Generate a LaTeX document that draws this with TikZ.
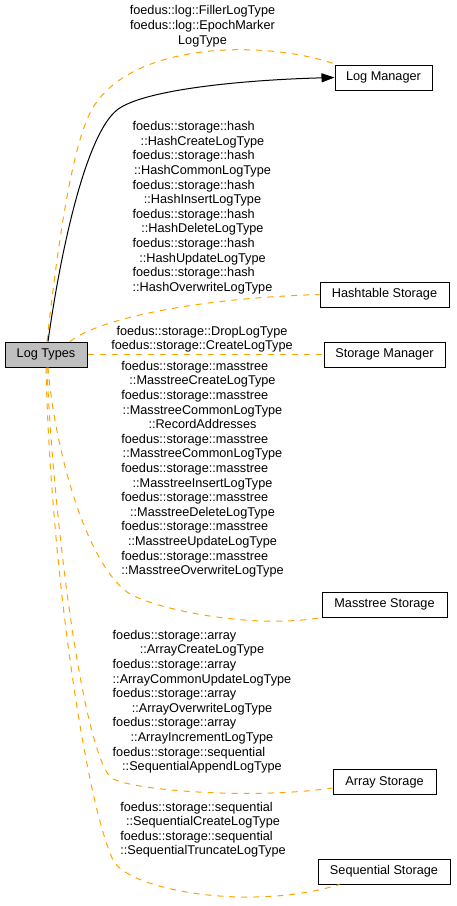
\documentclass[tikz,border=0pt]{standalone}
\usepackage{fontspec}
\setmainfont{Liberation Sans}
\usetikzlibrary{arrows.meta}
\definecolor{grayfill}{HTML}{BFBFBF}
\definecolor{edgeorange}{HTML}{FFA500}
\newcommand{\Lrow}[1]{\multicolumn{1}{@{}l@{}}{#1}}
\begin{document}
\begin{tikzpicture}[x=1pt,y=-1pt,
  box/.style={draw=black, line width=1pt, fill=white, minimum height=25pt, inner sep=0pt, font=\fontsize{12.7}{14.6}\selectfont},
  lbl/.style={inner sep=0pt, font=\fontsize{12.7}{14.6}\selectfont},
  grp/.style={draw=edgeorange, line width=1pt, dash pattern=on 6pt off 6pt},
  dep/.style={draw=black, line width=1pt, -{Triangle[length=13pt,width=9pt]}}]
\useasboundingbox (0,0) rectangle (456,906);
\fill[white] (0,0) rectangle (456,906);

\node[box, fill=grayfill, minimum width=82pt] (LT) at (46,354.5) {Log Types};
\node[box, minimum width=97pt] (LM) at (383.5,77.5) {Log Manager};
\node[box, minimum width=129pt] (HS) at (384.5,294.5) {Hashtable Storage};
\node[box, minimum width=121pt] (SM) at (384.5,354.5) {Storage Manager};
\node[box, minimum width=125pt] (MS) at (384.5,604.5) {Masstree Storage};
\node[box, minimum width=103pt] (AS) at (384.5,782) {Array Storage};
\node[box, minimum width=132pt] (SQ) at (384,871.5) {Sequential Storage};

\node[lbl] (lLM) at (202.5,26.5) {\begin{tabular}{@{}c@{}}foedus::log::FillerLogType\\foedus::log::EpochMarker\\LogType\end{tabular}};
\node[lbl] (lHS) at (202.5,208) {\begin{tabular}{@{}c@{}}\Lrow{foedus::storage::hash}\\::HashCreateLogType\\\Lrow{foedus::storage::hash}\\::HashCommonLogType\\\Lrow{foedus::storage::hash}\\::HashInsertLogType\\\Lrow{foedus::storage::hash}\\::HashDeleteLogType\\\Lrow{foedus::storage::hash}\\::HashUpdateLogType\\\Lrow{foedus::storage::hash}\\::HashOverwriteLogType\end{tabular}};
\node[lbl] (lSM) at (202,339.5) {\begin{tabular}{@{}c@{}}foedus::storage::DropLogType\\foedus::storage::CreateLogType\end{tabular}};
\node[lbl] (lMS) at (202.5,469.5) {\begin{tabular}{@{}c@{}}\Lrow{foedus::storage::masstree}\\::MasstreeCreateLogType\\\Lrow{foedus::storage::masstree}\\::MasstreeCommonLogType\\::RecordAddresses\\\Lrow{foedus::storage::masstree}\\::MasstreeCommonLogType\\\Lrow{foedus::storage::masstree}\\::MasstreeInsertLogType\\\Lrow{foedus::storage::masstree}\\::MasstreeDeleteLogType\\\Lrow{foedus::storage::masstree}\\::MasstreeUpdateLogType\\\Lrow{foedus::storage::masstree}\\::MasstreeOverwriteLogType\end{tabular}};
\node[lbl] (lAS) at (202,702) {\begin{tabular}{@{}c@{}}\Lrow{foedus::storage::array}\\::ArrayCreateLogType\\\Lrow{foedus::storage::array}\\::ArrayCommonUpdateLogType\\\Lrow{foedus::storage::array}\\::ArrayOverwriteLogType\\\Lrow{foedus::storage::array}\\::ArrayIncrementLogType\\\Lrow{foedus::storage::sequential}\\::SequentialAppendLogType\end{tabular}};
\node[lbl] (lSQ) at (203,830) {\begin{tabular}{@{}c@{}}\Lrow{foedus::storage::sequential}\\::SequentialCreateLogType\\\Lrow{foedus::storage::sequential}\\::SequentialTruncateLogType\end{tabular}};

% group edges
\draw[grp] ([xshift=1pt]LT.north) .. controls (56,260) and (70,153) .. (90,113)
  .. controls (125,43) and (260,38) .. ([xshift=2pt]LM.north west);
\draw[grp] ([xshift=24pt]LT.north) .. controls (100,318) and (200,298) .. (HS.west);
\draw[grp] (LT.east) -- (SM.west);
\draw[grp] ([xshift=2pt]LT.south) .. controls (55,450) and (85,560) .. (127,592)
  .. controls (150,608) and (250,630) .. (MS.south west);
\draw[grp] ([xshift=1pt]LT.south) .. controls (52,500) and (80,740) .. (110,777)
  .. controls (125,790) and (250,800) .. ([yshift=-6pt]AS.west);
\draw[grp] (LT.south) .. controls (50,560) and (85,800) .. (113,860)
  .. controls (128,890) and (250,912) .. ([xshift=22pt]SQ.south west);

% dependency edge
\draw[dep] ([xshift=2pt]LT.north) .. controls (62,242) and (87,134) .. (117,110)
  .. controls (142,90) and (240,80) .. (LM.west);
\end{tikzpicture}
\end{document}
